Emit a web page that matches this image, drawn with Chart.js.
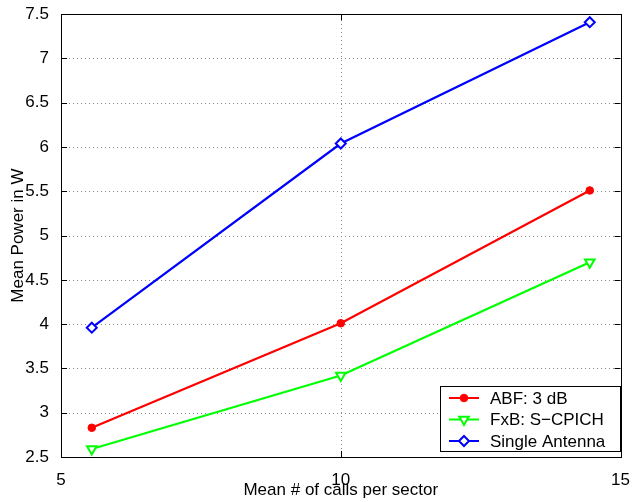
<!DOCTYPE html>
<html>
<head>
<meta charset="utf-8">
<script src="https://cdn.jsdelivr.net/npm/chart.js@4.4.1/dist/chart.umd.min.js"></script>
<style>
  html, body { margin: 0; padding: 0; background: #fff; }
  #wrap { width: 635px; height: 502px; }
</style>
</head>
<body>
<div id="wrap"><canvas id="chart" width="635" height="502"></canvas></div>
<script>
// Données
const callsPerSector = [5.55, 10, 14.45];
const abfPower = [2.83, 4.01, 5.51];
const fxbPower = [2.59, 3.42, 4.70];
const singlePower = [3.96, 6.04, 7.41];
const seriesLabels = ['ABF: 3 dB', 'FxB: S\u2212CPICH', 'Single Antenna'];
const xTicks = [5, 10, 15];
const yTicks = [2.5, 3, 3.5, 4, 4.5, 5, 5.5, 6, 6.5, 7, 7.5];

const toPoints = ys => ys.map((y, i) => ({ x: callsPerSector[i], y: y }));

Chart.defaults.font.family = '"Liberation Sans", Arial, sans-serif';
Chart.defaults.font.size = 17;
Chart.defaults.color = '#000';

// grille pointillée
const gridPlugin = {
    id: 'dotGrid',
    beforeDatasetsDraw(chart) {
        const { ctx, chartArea: a, scales } = chart;
        ctx.save();
        ctx.strokeStyle = '#8c8c8c';
        ctx.lineWidth = 1;
        ctx.setLineDash([1, 3]);
        ctx.beginPath();
        yTicks.forEach(v => {
            const p = Math.round(scales.y.getPixelForValue(v)) + 0.5;
            ctx.moveTo(a.left, p); ctx.lineTo(a.right, p);
        });
        xTicks.forEach(v => {
            const p = Math.round(scales.x.getPixelForValue(v)) + 0.5;
            ctx.moveTo(p, a.bottom); ctx.lineTo(p, a.top);
        });
        ctx.stroke();
        ctx.restore();
    }
};

// cadre + graduations vers l'intérieur, façon matlab
const framePlugin = {
    id: 'frame',
    afterDatasetsDraw(chart) {
        const { ctx, chartArea: a, scales } = chart;
        const len = 6;
        ctx.save();
        ctx.strokeStyle = '#000';
        ctx.lineWidth = 1;
        ctx.beginPath();
        yTicks.forEach(v => {
            const p = Math.round(scales.y.getPixelForValue(v)) + 0.5;
            ctx.moveTo(a.left, p); ctx.lineTo(a.left + len, p);
            ctx.moveTo(a.right, p); ctx.lineTo(a.right - len, p);
        });
        xTicks.forEach(v => {
            const p = Math.round(scales.x.getPixelForValue(v)) + 0.5;
            ctx.moveTo(p, a.bottom); ctx.lineTo(p, a.bottom - len);
            ctx.moveTo(p, a.top); ctx.lineTo(p, a.top + len);
        });
        ctx.stroke();
        ctx.strokeRect(Math.round(a.left) + 0.5, Math.round(a.top) + 0.5,
                       Math.round(a.right - a.left), Math.round(a.bottom - a.top));
        ctx.restore();
    }
};

// légende dans le coin bas droit
const legendPlugin = {
    id: 'boxLegend',
    afterDraw(chart) {
        const ctx = chart.ctx;
        const box = { x: 440.5, y: 386.5, w: 180, h: 65 };
        ctx.save();
        ctx.fillStyle = '#fff';
        ctx.fillRect(box.x, box.y, box.w, box.h);
        ctx.strokeStyle = '#000';
        ctx.lineWidth = 1;
        ctx.strokeRect(box.x, box.y, box.w, box.h);
        chart.data.datasets.forEach((ds, i) => {
            const y = 398 + i * 21.5;
            ctx.strokeStyle = ds.borderColor;
            ctx.lineWidth = 2;
            ctx.beginPath();
            ctx.moveTo(449, y); ctx.lineTo(479, y);
            ctx.stroke();
            ctx.fillStyle = ds.pointBackgroundColor;
            ctx.strokeStyle = ds.borderColor;
            ctx.lineWidth = ds.pointBorderWidth;
            Chart.helpers.drawPoint(ctx, {
                pointStyle: ds.pointStyle,
                rotation: ds.pointRotation || 0,
                radius: ds.pointRadius,
                borderWidth: ds.pointBorderWidth
            }, 464, y);
            ctx.fillStyle = '#000';
            ctx.font = '17px "Liberation Sans", Arial, sans-serif';
            ctx.textBaseline = 'middle';
            ctx.fillText(ds.label, 490, y + 1);
        });
        ctx.restore();
    }
};

new Chart(document.getElementById('chart'), {
    type: 'line',
    data: {
        datasets: [
            {
                label: seriesLabels[0],
                data: toPoints(abfPower),
                borderColor: '#ff0000',
                borderWidth: 2.2,
                pointStyle: 'circle',
                pointRadius: 3.8,
                pointBackgroundColor: '#ff0000',
                pointBorderColor: '#ff0000',
                pointBorderWidth: 1
            },
            {
                label: seriesLabels[1],
                data: toPoints(fxbPower),
                borderColor: '#00ff00',
                borderWidth: 2.2,
                pointStyle: 'triangle',
                pointRotation: 180,
                pointRadius: 5.5,
                pointBackgroundColor: '#ffffff',
                pointBorderColor: '#00ff00',
                pointBorderWidth: 2
            },
            {
                label: seriesLabels[2],
                data: toPoints(singlePower),
                borderColor: '#0000ff',
                borderWidth: 2.2,
                pointStyle: 'rectRot',
                pointRadius: 5,
                pointBackgroundColor: '#ffffff',
                pointBorderColor: '#0000ff',
                pointBorderWidth: 2
            }
        ]
    },
    options: {
        responsive: false,
        animation: false,
        layout: { padding: { top: 13, right: 10, left: 0, bottom: 0 } },
        plugins: {
            legend: { display: false },
            tooltip: { enabled: false }
        },
        scales: {
            x: {
                type: 'linear',
                min: 5,
                max: 15,
                afterBuildTicks: axis => { axis.ticks = xTicks.map(v => ({ value: v })); },
                afterFit: axis => { axis.height = 45; },
                ticks: { padding: 5, maxRotation: 0, font: { size: 17 }, callback: v => String(v) },
                grid: { display: false },
                border: { display: false },
                title: {
                    display: true,
                    text: 'Mean # of calls per sector',
                    font: { size: 17 },
                    padding: { top: 0, bottom: 1 }
                }
            },
            y: {
                type: 'linear',
                min: 2.5,
                max: 7.5,
                afterBuildTicks: axis => { axis.ticks = yTicks.map(v => ({ value: v })); },
                afterFit: axis => { axis.width = 61; },
                ticks: { padding: 4, font: { size: 17 }, callback: v => String(v) },
                grid: { display: false },
                border: { display: false },
                title: {
                    display: true,
                    text: 'Mean Power in W',
                    font: { size: 17 },
                    padding: { top: 8, bottom: 0 }
                }
            }
        }
    },
    plugins: [gridPlugin, framePlugin, legendPlugin]
});
</script>
</body>
</html>
